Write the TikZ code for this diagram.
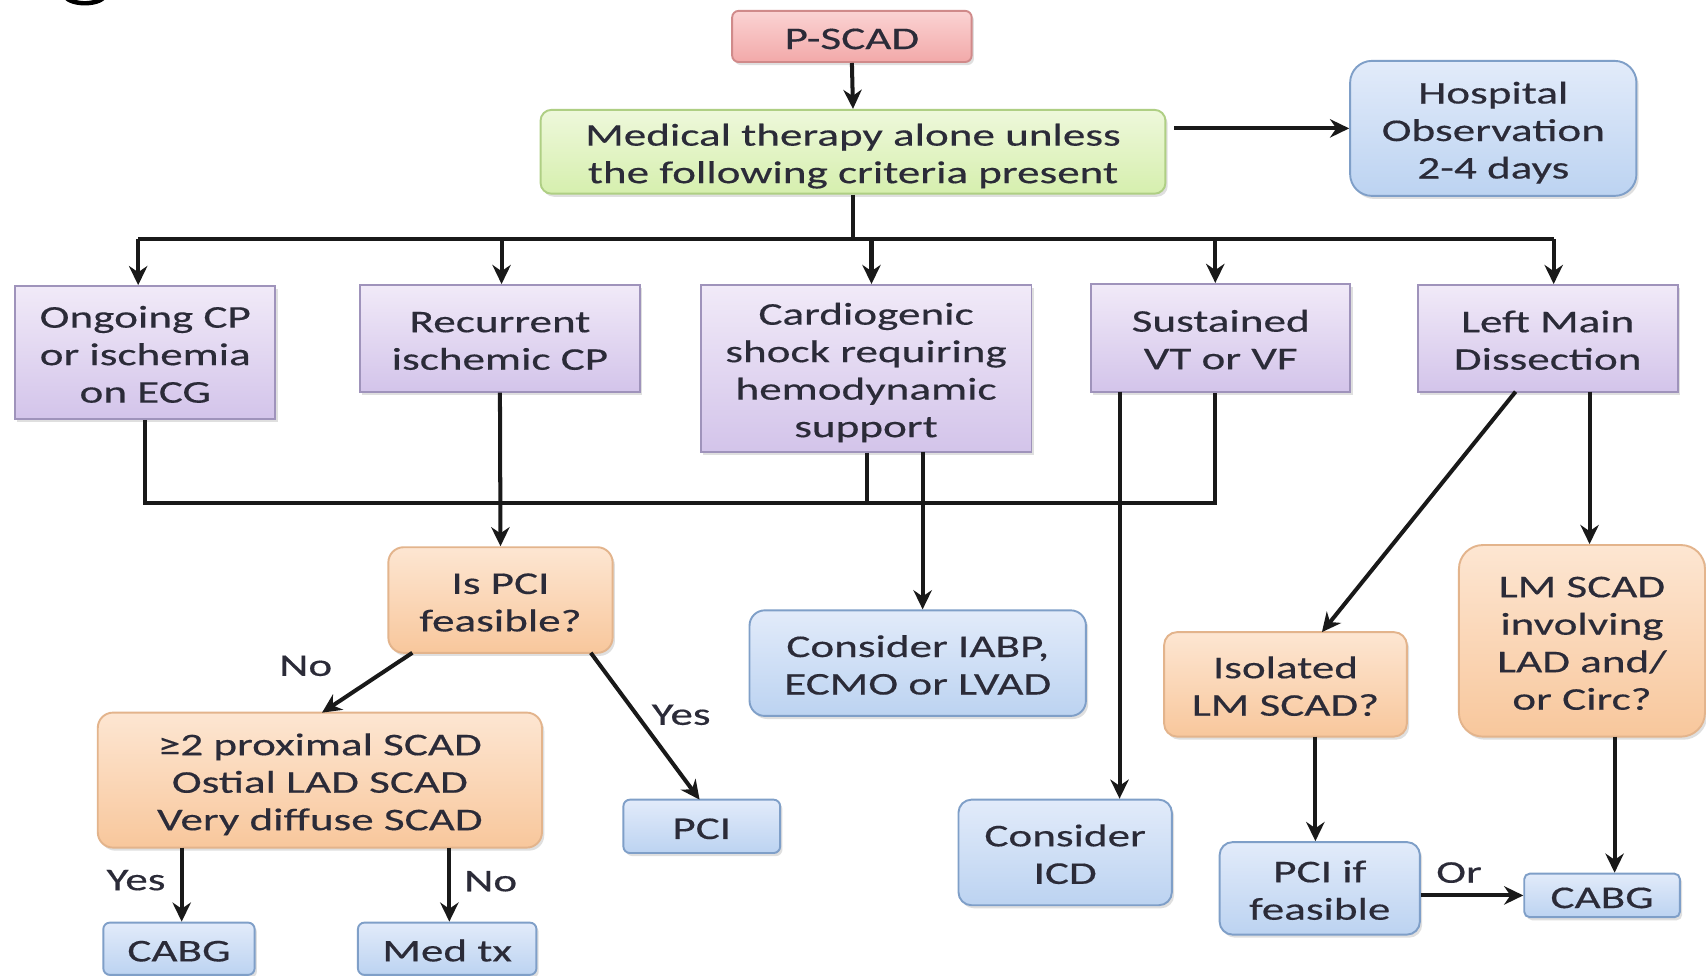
\documentclass[tikz,border=0pt]{standalone}
\usepackage{fontspec}
\setmainfont{Carlito}[FakeStretch=1.43,FakeBold=0.4]
\usetikzlibrary{arrows.meta,shadows}
\definecolor{txt}{HTML}{2B2B38}
\definecolor{purpleT}{HTML}{F1EAF8}
\definecolor{purpleB}{HTML}{D3C4EA}
\definecolor{purpleE}{HTML}{9F93BB}
\definecolor{blueT}{HTML}{E2EBFA}
\definecolor{blueB}{HTML}{BCD3F1}
\definecolor{blueE}{HTML}{7F9FC8}
\definecolor{orangeT}{HTML}{FDE6D2}
\definecolor{orangeB}{HTML}{F8C79C}
\definecolor{orangeE}{HTML}{E3B48C}
\definecolor{greenT}{HTML}{EEF8DB}
\definecolor{greenB}{HTML}{D6EFAE}
\definecolor{greenE}{HTML}{AFCF84}
\definecolor{redT}{HTML}{FBD3D3}
\definecolor{redB}{HTML}{F2A9A9}
\definecolor{redE}{HTML}{D08A8A}
\newcommand\mt[1]{\raisebox{-1.34pt}[\height][\depth]{\begin{tabular}{@{}c@{}}#1\end{tabular}}}
\tikzset{
  basebox/.style={inner sep=0pt, text=txt, line width=0.5pt,
    drop shadow={shadow xshift=0.6pt, shadow yshift=-0.8pt, opacity=0.25}},
  purplebox/.style={basebox, draw=purpleE, top color=purpleT, bottom color=purpleB},
  bluebox/.style={basebox, draw=blueE, top color=blueT, bottom color=blueB},
  orangebox/.style={basebox, draw=orangeE, top color=orangeT, bottom color=orangeB},
  greenbox/.style={basebox, draw=greenE, top color=greenT, bottom color=greenB},
  redbox/.style={basebox, draw=redE, top color=redT, bottom color=redB},
  conn/.style={line width=1.05pt, black!90},
  arr/.style={conn, -{Stealth[length=5pt,width=4.8pt]}},
  lbl/.style={inner sep=0pt, text=txt}
}
\begin{document}
\begin{tikzpicture}[x=0.01cm,y=-0.01cm, font=\fontsize{8.25}{9.8}\selectfont]
\useasboundingbox (0,0) rectangle (1568,897);
\fill[white] (0,0) rectangle (1568,897);
\begin{scope}
\clip (0,0) rectangle (1568,897);
\fill[black, even odd rule] (78,-4) ellipse [x radius=0.2cm, y radius=0.09cm]
  (78,-8) ellipse [x radius=0.17cm, y radius=0.09cm];
\end{scope}

% nodes
\node[redbox, minimum width=2.20cm, minimum height=0.47cm, rounded corners=0.6mm] (pscad) at (783,33.5) {\mt{P-SCAD}};
\node[greenbox, minimum width=5.74cm, minimum height=0.77cm, rounded corners=1.0mm] (med) at (784,139.5) {\mt{Medical therapy alone unless\\the following criteria present}};
\node[bluebox, minimum width=2.63cm, minimum height=1.24cm, rounded corners=2mm] (hosp) at (1372.5,118) {\mt{Hospital\\Observation\\2-4 days}};
\node[purplebox, minimum width=2.39cm, minimum height=1.22cm] (p1) at (133.5,324) {\mt{Ongoing CP\\or ischemia\\on ECG}};
\node[purplebox, minimum width=2.57cm, minimum height=0.98cm] (p2) at (459.5,311) {\mt{Recurrent\\ischemic CP}};
\node[purplebox, minimum width=3.04cm, minimum height=1.53cm] (p3) at (796,338.5) {\mt{Cardiogenic\\shock requiring\\hemodynamic\\support}};
\node[purplebox, minimum width=2.38cm, minimum height=0.99cm] (p4) at (1122,310.5) {\mt{Sustained\\VT or VF}};
\node[purplebox, minimum width=2.39cm, minimum height=0.98cm] (p5) at (1422.5,311) {\mt{Left Main\\Dissection}};
\node[orangebox, minimum width=2.06cm, minimum height=0.97cm, rounded corners=1.4mm] (ispci) at (460,551.5) {\mt{Is PCI\\feasible?}};
\node[orangebox, minimum width=4.08cm, minimum height=1.24cm, rounded corners=1.4mm] (prox) at (294,717) {\mt{≥2 proximal SCAD\\Ostial LAD SCAD\\Very diffuse SCAD}};
\node[bluebox, minimum width=1.44cm, minimum height=0.49cm, rounded corners=0.6mm] (pci) at (645,759.5) {\mt{PCI}};
\node[bluebox, minimum width=1.39cm, minimum height=0.48cm, rounded corners=0.6mm] (cabga) at (164.5,872) {\mt{CABG}};
\node[bluebox, minimum width=1.64cm, minimum height=0.48cm, rounded corners=0.6mm] (medtx) at (411,872) {\mt{Med tx}};
\node[bluebox, minimum width=3.09cm, minimum height=0.97cm, rounded corners=1.4mm] (iabp) at (843.5,609.5) {\mt{Consider IABP,\\ECMO or LVAD}};
\node[bluebox, minimum width=1.96cm, minimum height=0.97cm, rounded corners=1.2mm] (icd) at (979,783.5) {\mt{Consider\\ICD}};
\node[orangebox, minimum width=2.23cm, minimum height=0.96cm, rounded corners=1.2mm] (iso) at (1181.5,629) {\mt{Isolated\\LM SCAD?}};
\node[orangebox, minimum width=2.26cm, minimum height=1.76cm, rounded corners=2.2mm] (lm) at (1454,589) {\mt{LM SCAD\\involving\\LAD and/\\or Circ?}};
\node[bluebox, minimum width=1.84cm, minimum height=0.85cm, rounded corners=1.2mm] (pcif) at (1213,816.5) {\mt{PCI if\\feasible}};
\node[bluebox, minimum width=1.43cm, minimum height=0.40cm, rounded corners=0.5mm] (cabgb) at (1472.5,823) {\mt{CABG}};

% top connectors
\draw[arr] (pscad.south) -- (med.north);
\draw[arr, shorten <=0.07cm] (med.east |- hosp.west) -- (hosp.west);
\coordinate (bL) at (127,220);
\coordinate (bR) at (1428,220);
\coordinate (b2) at (461,220);
\coordinate (b3) at (801,220);
\coordinate (b4) at (1117,220);
\draw[conn] (med.south) -- (med.south |- bL);
\draw[conn] (bL) -- (bR);
\draw[arr] (bL) -- (bL |- p1.north);
\draw[arr] (b2) -- (b2 |- p2.north);
\draw[arr] (b3) -- (b3 |- p3.north);
\draw[arr] (b4) -- (b4 |- p4.north);
\draw[arr] (bR) -- (bR |- p5.north);

% middle bus
\coordinate (m1) at (133,462);
\coordinate (m3) at (797,462);
\coordinate (m4) at (1117,462);
\draw[conn] (m1 |- p1.south) -- (m1) -- (m4) -- (m4 |- p4.south);
\draw[conn] (m3 |- p3.south) -- (m3);
\draw[arr] (p2.south) -- (ispci.north);
\coordinate (x3) at (848,415);
\draw[arr] (x3) -- (x3 |- iabp.north);
\coordinate (x4) at (1029,360);
\draw[arr] (x4) -- (x4 |- icd.north);
\coordinate (x5a) at (1393,360);
\coordinate (x5b) at (1215,581);
\draw[arr] (x5a) -- (x5b);
\coordinate (x5c) at (1461,360);
\draw[arr] (x5c) -- (x5c |- lm.north);

% lower left
\coordinate (na) at (379,600);
\coordinate (nb) at (296,655);
\draw[arr] (na) -- (nb);
\coordinate (ya) at (543,600);
\coordinate (yb) at (643,735);
\draw[arr] (ya) -- (yb);
\coordinate (c1) at (167,779);
\draw[arr] (c1) -- (c1 |- cabga.north);
\coordinate (c2) at (413,779);
\draw[arr] (c2) -- (c2 |- medtx.north);

% lower right
\coordinate (i1) at (1209,677);
\draw[arr] (i1) -- (i1 |- pcif.north);
\coordinate (l1) at (1484,677);
\draw[arr] (l1) -- (l1 |- cabgb.north);
\draw[arr] (pcif.east |- cabgb.west) -- (cabgb.west);

% labels
\node[lbl] (tno1) at (281,612) {No};
\node[lbl] (tyes1) at (626,657) {Yes};
\node[lbl] (tyes2) at (125,809) {Yes};
\node[lbl] (tno2) at (451,810) {No};
\node[lbl] (tor) at (1341,802) {Or};
\end{tikzpicture}
\end{document}
